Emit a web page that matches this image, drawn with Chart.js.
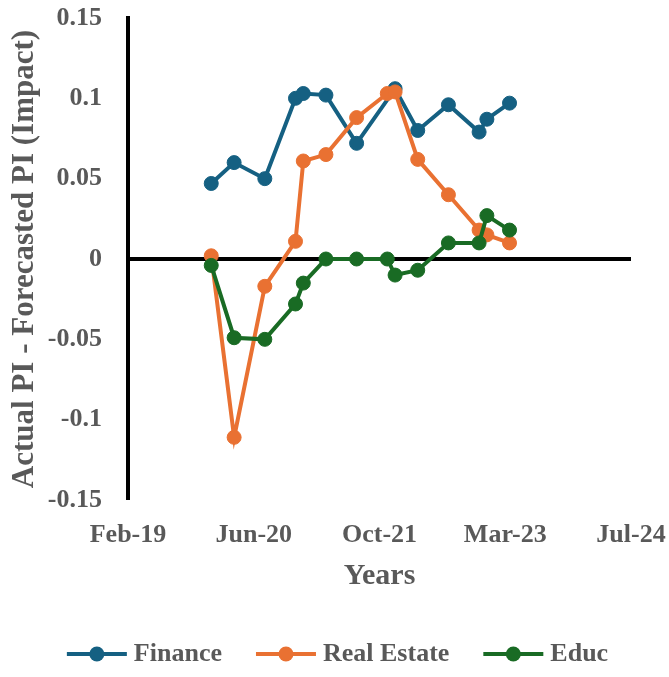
<!DOCTYPE html>
<html>
<head>
<meta charset="utf-8">
<script src="https://cdn.jsdelivr.net/npm/chart.js@4.4.0/dist/chart.umd.min.js"></script>
<style>
  html, body { margin: 0; padding: 0; background: #fff; }
</style>
</head>
<body>
<canvas id="chart" width="669" height="677"></canvas>
<script>
// first day of the date axis (the Feb-19 tick), ticks every 500 days like Excel
const originDate = '2019-02-04';
const xTickLabels = ['Feb-19', 'Jun-20', 'Oct-21', 'Mar-23', 'Jul-24'];

const financeDates = [
  '2020-01-01', '2020-04-01', '2020-08-01', '2020-12-01', '2021-01-01', '2021-04-01', '2021-08-01',
  '2022-01-01', '2022-04-01', '2022-08-01', '2022-12-01', '2023-01-01', '2023-04-01'
];
const financeValues = [0.047, 0.060, 0.050, 0.100, 0.103, 0.102, 0.072, 0.106, 0.080, 0.096, 0.079, 0.087, 0.097];

// Real Estate and Educ share the same dates
const sectorDates = [
  '2020-01-01', '2020-04-01', '2020-08-01', '2020-12-01', '2021-01-01', '2021-04-01', '2021-08-01',
  '2021-12-01', '2022-01-01', '2022-04-01', '2022-08-01', '2022-12-01', '2023-01-01', '2023-04-01'
];
const realEstateValues = [0.002, -0.111, -0.017, 0.011, 0.061, 0.065, 0.088, 0.103, 0.104, 0.062, 0.040, 0.018, 0.015, 0.010];
const educValues = [-0.004, -0.049, -0.050, -0.028, -0.015, 0.000, 0.000, 0.000, -0.010, -0.007, 0.010, 0.010, 0.027, 0.018];

const seriesLabels = ['Finance', 'Real Estate', 'Educ'];
const seriesColors = ['#156082', '#E97132', '#196B24'];

const textColor = '#595959';
const fontFamily = '"Liberation Serif", "Times New Roman", serif';

const DAY = 86400000;
const toDays = (d) => (Date.parse(d) - Date.parse(originDate)) / DAY;
const toPoints = (dates, values) => dates.map((d, i) => ({ x: toDays(d), y: values[i] }));

const makeSeries = (idx, dates, values) => ({
  label: seriesLabels[idx],
  data: toPoints(dates, values),
  borderColor: seriesColors[idx],
  backgroundColor: seriesColors[idx],
  pointBackgroundColor: seriesColors[idx],
  pointBorderColor: seriesColors[idx],
  borderWidth: 4,
  pointRadius: 7,
  pointBorderWidth: 1,
  tension: 0,
  order: 3 - idx // Educ drawn on top
});

// legend: line with a dot, text next to it (Excel style)
const lineLegend = {
  id: 'lineLegend',
  afterDraw(chart) {
    const ctx = chart.ctx;
    const sets = chart.data.datasets;
    const lineW = 60, gap = 7, spacing = 34, y = 654;
    ctx.save();
    ctx.font = 'bold 26px ' + fontFamily;
    ctx.textBaseline = 'middle';
    const widths = sets.map(ds => ctx.measureText(ds.label).width);
    const total = widths.reduce((s, w) => s + lineW + gap + w, 0) + spacing * (sets.length - 1);
    let x = 337.5 - total / 2;
    sets.forEach((ds, i) => {
      ctx.strokeStyle = ds.borderColor;
      ctx.lineWidth = 4;
      ctx.beginPath();
      ctx.moveTo(x, y);
      ctx.lineTo(x + lineW, y);
      ctx.stroke();
      ctx.fillStyle = ds.borderColor;
      ctx.beginPath();
      ctx.arc(x + lineW / 2, y, 7.5, 0, Math.PI * 2);
      ctx.fill();
      ctx.fillStyle = textColor;
      ctx.fillText(ds.label, x + lineW + gap, y);
      x += lineW + gap + widths[i] + spacing;
    });
    ctx.restore();
  }
};

const isZero = (c) => c.tick && Math.abs(c.tick.value) < 1e-9;

new Chart(document.getElementById('chart'), {
  type: 'line',
  data: {
    datasets: [
      makeSeries(0, financeDates, financeValues),
      makeSeries(1, sectorDates, realEstateValues),
      makeSeries(2, sectorDates, educValues)
    ]
  },
  options: {
    responsive: false,
    animation: false,
    layout: { padding: { top: 18, right: 38, bottom: 64, left: 0 } },
    plugins: {
      legend: { display: false },
      tooltip: { enabled: false }
    },
    scales: {
      x: {
        type: 'linear',
        min: 0,
        max: 2000,
        ticks: {
          stepSize: 500,
          autoSkip: false,
          maxRotation: 0,
          padding: 20,
          color: textColor,
          font: { family: fontFamily, size: 26, weight: 'bold' },
          callback: (v, i) => xTickLabels[i]
        },
        grid: { display: false, drawTicks: false },
        border: { display: false },
        title: {
          display: true,
          text: 'Years',
          color: textColor,
          font: { family: fontFamily, size: 30, weight: 'bold' },
          padding: { top: 0, bottom: 19 }
        },
        afterFit: (s) => {
          s.height = 113;
          s.paddingLeft = 0;
          s.paddingRight = 0;
        }
      },
      y: {
        min: -0.15,
        max: 0.15,
        ticks: {
          stepSize: 0.05,
          padding: 26,
          color: textColor,
          font: { family: fontFamily, size: 26, weight: 'bold' },
          callback: (v) => String(Math.round(v * 100) / 100)
        },
        grid: {
          drawTicks: false,
          color: (c) => isZero(c) ? '#000000' : 'rgba(0,0,0,0)',
          lineWidth: (c) => isZero(c) ? 4 : 0
        },
        border: { display: true, color: '#000000', width: 4 },
        title: {
          display: true,
          text: 'Actual PI - Forecasted PI (Impact)',
          color: textColor,
          font: { family: fontFamily, size: 31, weight: 'bold' },
          padding: { top: 6, bottom: 0 }
        },
        afterFit: (s) => {
          s.width = 128;
          s.paddingTop = 0;
          s.paddingBottom = 0;
        }
      }
    }
  },
  plugins: [lineLegend]
});
</script>
</body>
</html>
